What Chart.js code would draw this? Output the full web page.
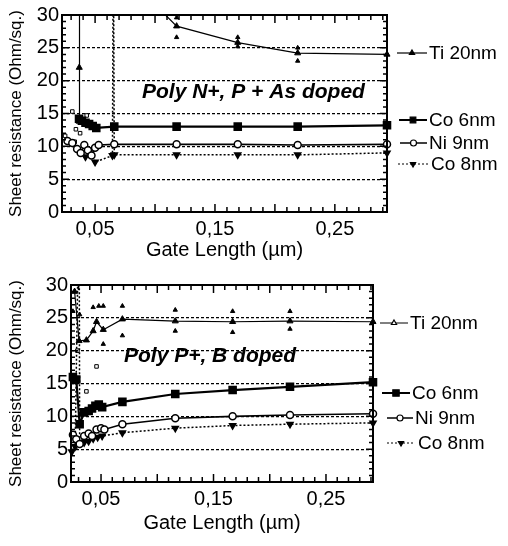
<!DOCTYPE html>
<html>
<head>
<meta charset="utf-8">
<script src="https://cdn.jsdelivr.net/npm/chart.js@4.4.0/dist/chart.umd.min.js"></script>
<style>
  html, body { margin: 0; padding: 0; background: #fff; }
  .panel { position: absolute; left: 0; width: 508px; }
</style>
</head>
<body>
<div class="panel" style="top:0;height:270px"><canvas id="top-chart" width="508" height="270"></canvas></div>
<div class="panel" style="top:270px;height:276px"><canvas id="bottom-chart" width="508" height="276"></canvas></div>
<script>
const FONT = "'Liberation Sans', Arial, sans-serif";

const Y_TICKS = [0, 5, 10, 15, 20, 25, 30];
const X_TICKS = [0.05, 0.15, 0.25];

// top panel: Poly N+, P + As doped
const topTiX = [0.0366, 0.0368, 0.0372, 0.065, 0.118, 0.169, 0.219, 0.2935];
const topTiY = [13.8, 22.0, 48, 38, 28.3, 25.8, 24.2, 24.0];
const topTiSpreadX = [0.118, 0.118, 0.169, 0.169, 0.219, 0.219];
const topTiSpreadY = [29.6, 26.6, 26.6, 25.2, 25.0, 23.0];
const topCo6X = [0.0366, 0.039, 0.042, 0.045, 0.048, 0.051, 0.066, 0.118, 0.169, 0.219, 0.2935];
const topCo6Y = [14.2, 13.9, 13.6, 13.4, 13.1, 12.8, 13.0, 13.0, 13.0, 13.0, 13.2];
const topNi9X = [0.027, 0.031, 0.035, 0.038, 0.041, 0.044, 0.047, 0.050, 0.053, 0.066, 0.118, 0.169, 0.219, 0.2935];
const topNi9Y = [10.8, 10.5, 9.6, 9.0, 10.2, 9.4, 8.6, 9.8, 10.2, 10.3, 10.3, 10.3, 10.2, 10.3];
const topCo8X = [0.042, 0.046, 0.050, 0.0645, 0.0652, 0.066, 0.118, 0.169, 0.219, 0.2935];
const topCo8Y = [8.4, 8.8, 7.6, 8.6, 45, 8.7, 8.7, 8.7, 8.7, 9.0];
const topOpenX = [0.025, 0.031, 0.034, 0.043, 0.0375, 0.033];
const topOpenY = [11.6, 15.3, 12.6, 14.7, 12.0, 10.7];

// bottom panel: Poly P+, B doped
const botTiX = [0.0265, 0.0305, 0.037, 0.043, 0.046, 0.052, 0.069, 0.116, 0.167, 0.218, 0.2918];
const botTiY = [29.0, 21.5, 21.6, 23.0, 24.4, 23.2, 24.8, 24.5, 24.4, 24.5, 24.4];
const botTiSpreadX = [0.025, 0.031, 0.043, 0.048, 0.052, 0.069, 0.116, 0.167, 0.218, 0.052, 0.069, 0.116, 0.167, 0.218];
const botTiSpreadY = [26.0, 25.5, 26.6, 26.8, 26.8, 26.8, 26.2, 26.0, 26.0, 21.0, 22.3, 23.0, 22.8, 23.3];
const botCo6X = [0.025, 0.028, 0.031, 0.035, 0.039, 0.042, 0.045, 0.048, 0.051, 0.069, 0.116, 0.167, 0.218, 0.2918];
const botCo6Y = [16.0, 15.6, 8.8, 10.6, 10.8, 11.2, 11.6, 11.8, 11.4, 12.2, 13.4, 14.0, 14.5, 15.2];
const botNi9X = [0.025, 0.028, 0.031, 0.035, 0.039, 0.042, 0.046, 0.050, 0.053, 0.069, 0.116, 0.167, 0.218, 0.2918];
const botNi9Y = [7.2, 6.5, 5.8, 7.0, 7.4, 7.0, 8.0, 8.2, 8.0, 8.8, 9.7, 10.0, 10.2, 10.4];
const botCo8X = [0.024, 0.027, 0.0305, 0.031, 0.035, 0.039, 0.043, 0.047, 0.051, 0.069, 0.116, 0.167, 0.218, 0.2918];
const botCo8Y = [4.6, 5.4, 45, 6.0, 6.0, 6.2, 6.6, 6.8, 7.0, 7.5, 8.2, 8.6, 8.8, 9.0];
const botOpenX = [0.037, 0.046, 0.029];
const botOpenY = [13.8, 17.6, 20.0];

function pts(xs, ys) {
  return xs.map((x, i) => ({ x, y: ys[i] }));
}

function datasets(s) {
  const base = { borderColor: "#000", pointBorderColor: "#000", pointBackgroundColor: "#000", tension: 0,
    clip: { left: 8, top: 0, right: 8, bottom: 8 } };
  return [
    { ...base, label: "Ti 20nm", data: pts(s.tiX, s.tiY), borderWidth: 1.2, pointStyle: "triangle", pointRadius: 3.5, pointBorderWidth: 1 },
    { ...base, label: "Ti spread", data: pts(s.tiSpreadX, s.tiSpreadY), showLine: false, pointStyle: "triangle", pointRadius: 2.5 },
    { ...base, label: "Co 6nm", data: pts(s.co6X, s.co6Y), borderWidth: 2.2, pointStyle: "rect", pointRadius: 4.5 },
    { ...base, label: "Ni 9nm", data: pts(s.ni9X, s.ni9Y), borderWidth: 1.6, pointStyle: "circle", pointRadius: 3.5,
      pointBackgroundColor: "#fff", pointBorderWidth: 1.5 },
    { ...base, label: "Co 8nm", data: pts(s.co8X, s.co8Y), borderWidth: 1.5, borderDash: [2, 2], pointStyle: "triangle",
      pointRotation: 180, pointRadius: 3.5 },
    { ...base, label: "open", data: pts(s.openX, s.openY), showLine: false, pointStyle: "rect", pointRadius: 2.5,
      pointBackgroundColor: "#fff", pointBorderWidth: 1 },
  ];
}

// inward ticks + solid frame
const framePlugin = {
  id: "frame",
  afterDraw(chart) {
    const { ctx, chartArea: a, scales: { x, y } } = chart;
    ctx.save();
    ctx.strokeStyle = "#000";
    ctx.lineWidth = 1.5;
    ctx.beginPath();
    for (let v = Math.ceil(x.min * 100); v <= Math.floor(x.max * 100); v++) {
      const px = x.getPixelForValue(v / 100);
      const len = v % 5 === 0 ? 8 : 5;
      ctx.moveTo(px, a.bottom); ctx.lineTo(px, a.bottom - len);
      ctx.moveTo(px, a.top); ctx.lineTo(px, a.top + len);
    }
    for (let v = 0; v <= 30; v++) {
      const py = y.getPixelForValue(v);
      const len = v % 5 === 0 ? 7 : 4;
      ctx.moveTo(a.left, py); ctx.lineTo(a.left + len, py);
      ctx.moveTo(a.right, py); ctx.lineTo(a.right - len, py);
    }
    ctx.stroke();
    ctx.lineWidth = 2;
    ctx.strokeRect(a.left, a.top, a.right - a.left, a.bottom - a.top);
    ctx.restore();
  },
};

function labelPlugin(entries, note) {
  return {
    id: "sideLabels",
    afterDraw(chart) {
      const ctx = chart.ctx;
      ctx.save();
      ctx.fillStyle = "#000";
      ctx.strokeStyle = "#000";
      entries.forEach((e) => {
        ctx.lineWidth = e.lw;
        ctx.setLineDash(e.dash || []);
        ctx.beginPath();
        ctx.moveTo(e.x0, e.y); ctx.lineTo(e.x1, e.y);
        ctx.stroke();
        ctx.setLineDash([]);
        ctx.fillStyle = e.fill;
        ctx.lineWidth = 1.2;
        Chart.helpers.drawPoint(ctx, { pointStyle: e.ps, rotation: e.rot || 0, radius: e.r, borderWidth: 1.2 },
          (e.x0 + e.x1) / 2, e.y);
        ctx.fillStyle = "#000";
        ctx.font = "19px " + FONT;
        ctx.textBaseline = "middle";
        ctx.textAlign = "left";
        ctx.fillText(e.text, e.tx, e.y + 1);
      });
      ctx.font = "italic bold " + note.size + "px " + FONT;
      ctx.textBaseline = "middle";
      ctx.fillText(note.text, note.x, note.y);
      ctx.restore();
    },
  };
}

function makeChart(id, s) {
  return new Chart(document.getElementById(id), {
    type: "line",
    data: { datasets: datasets(s) },
    options: {
      responsive: false,
      animation: false,
      layout: { autoPadding: false, padding: s.pad },
      plugins: { legend: { display: false }, tooltip: { enabled: false } },
      scales: {
        x: {
          type: "linear",
          min: s.xMin,
          max: s.xMax,
          afterBuildTicks: (sc) => { sc.ticks = X_TICKS.map((v) => ({ value: v })); },
          afterFit: (sc) => { sc.height = s.xAxisH; },
          ticks: { color: "#000", font: { family: FONT, size: 20 }, padding: 5, maxRotation: 0, autoSkip: false,
            callback: (v) => v.toFixed(2).replace(".", ",") },
          grid: { display: false, drawTicks: false },
          border: { display: false },
          title: { display: true, text: "Gate Length (µm)", color: "#000", font: { family: FONT, size: 20 },
            padding: { top: 0, bottom: 2 } },
        },
        y: {
          min: 0,
          max: 30,
          afterBuildTicks: (sc) => { sc.ticks = Y_TICKS.map((v) => ({ value: v })); },
          afterFit: (sc) => { sc.width = s.yAxisW; },
          ticks: { color: "#000", font: { family: FONT, size: 20 }, padding: 3 },
          grid: { color: "#000", lineWidth: 1.2, drawTicks: false },
          border: { display: false, dash: [3, 2] },
          title: { display: true, text: "Sheet resistance (Ohm/sq.)", color: "#000", font: { family: FONT, size: 17 },
            padding: { top: 6, bottom: 0 } },
        },
      },
    },
    plugins: [framePlugin, labelPlugin(s.legend, s.note)],
  });
}

makeChart("top-chart", {
  tiX: topTiX, tiY: topTiY, tiSpreadX: topTiSpreadX, tiSpreadY: topTiSpreadY,
  co6X: topCo6X, co6Y: topCo6Y, ni9X: topNi9X, ni9Y: topNi9Y, co8X: topCo8X, co8Y: topCo8Y,
  openX: topOpenX, openY: topOpenY,
  xMin: 0.0224, xMax: 0.2935,
  pad: { left: 0, top: 8, right: 121, bottom: 6 },
  yAxisW: 62, xAxisH: 52,
  legend: [
    { text: "Ti 20nm", y: 53, x0: 397, x1: 427, tx: 429, lw: 1.2, ps: "triangle", r: 3, fill: "#000" },
    { text: "Co 6nm", y: 120, x0: 399, x1: 427, tx: 429, lw: 2, ps: "rect", r: 4, fill: "#000" },
    { text: "Ni 9nm", y: 143, x0: 400, x1: 427, tx: 429, lw: 1.5, ps: "circle", r: 3, fill: "#fff" },
    { text: "Co 8nm", y: 164, x0: 398, x1: 428, tx: 431, lw: 1.2, dash: [2, 2], ps: "triangle", rot: 180, r: 3, fill: "#000" },
  ],
  note: { text: "Poly N+, P + As doped", x: 142, y: 92, size: 21 },
});

makeChart("bottom-chart", {
  tiX: botTiX, tiY: botTiY, tiSpreadX: botTiSpreadX, tiSpreadY: botTiSpreadY,
  co6X: botCo6X, co6Y: botCo6Y, ni9X: botNi9X, ni9Y: botNi9Y, co8X: botCo8X, co8Y: botCo8Y,
  openX: botOpenX, openY: botOpenY,
  xMin: 0.0233, xMax: 0.2918,
  pad: { left: 0, top: 10, right: 135, bottom: 9 },
  yAxisW: 71, xAxisH: 55,
  legend: [
    { text: "Ti 20nm", y: 53, x0: 380, x1: 408, tx: 410, lw: 1, ps: "triangle", r: 3, fill: "#fff" },
    { text: "Co 6nm", y: 123, x0: 382, x1: 410, tx: 412, lw: 2, ps: "rect", r: 4.5, fill: "#000" },
    { text: "Ni 9nm", y: 148, x0: 387, x1: 413, tx: 415, lw: 1.5, ps: "circle", r: 3, fill: "#fff" },
    { text: "Co 8nm", y: 173, x0: 387, x1: 415, tx: 418, lw: 1, dash: [2, 2], ps: "triangle", rot: 180, r: 3, fill: "#000" },
  ],
  note: { text: "Poly P+, B doped", x: 124, y: 86, size: 21 },
});
</script>
</body>
</html>
